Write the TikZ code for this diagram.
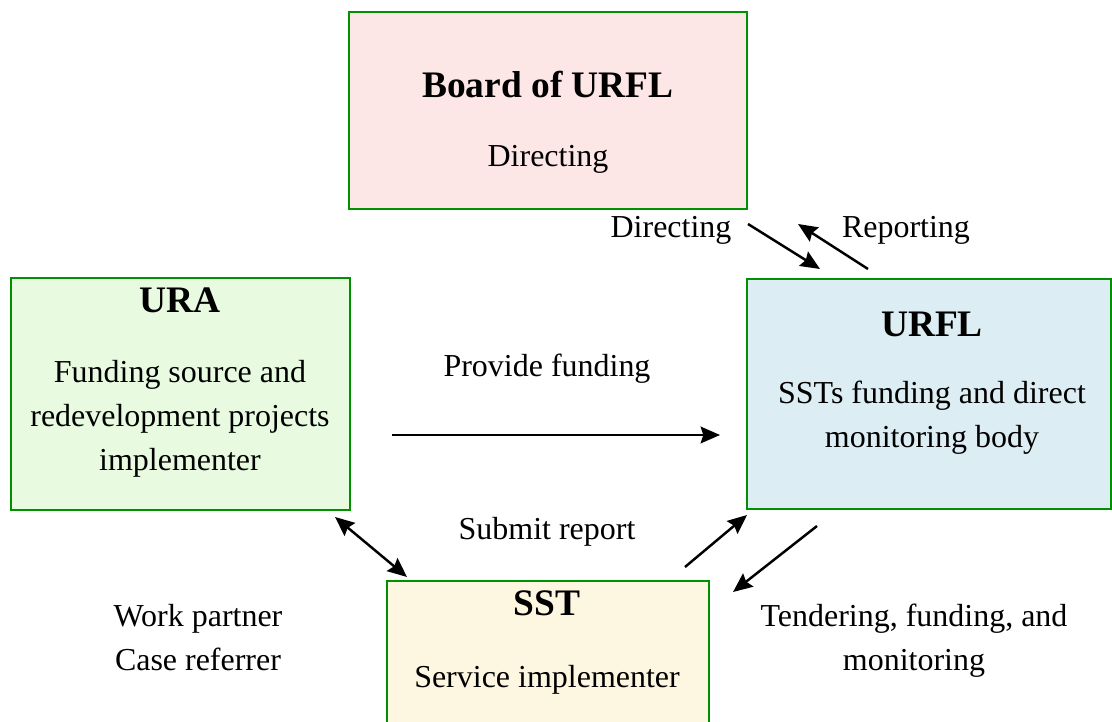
\documentclass[tikz,border=0pt]{standalone}
\usepackage{fontspec}
\setmainfont{Liberation Serif}
\usetikzlibrary{arrows.meta,positioning}
\definecolor{boxgreen}{RGB}{0,144,0}
\definecolor{pinkfill}{RGB}{253,230,230}
\definecolor{greenfill}{RGB}{232,251,224}
\definecolor{bluefill}{RGB}{220,237,243}
\definecolor{creamfill}{RGB}{253,246,224}
\tikzset{
  box/.style={draw=boxgreen,line width=1.1pt,rectangle,inner sep=0pt},
  ttl/.style={font=\fontsize{21.3}{25}\selectfont\bfseries,inner sep=0pt,anchor=base},
  txt/.style={font=\fontsize{18.2}{25}\selectfont,inner sep=0pt,align=center},
  arr/.style={line width=1.4pt}
}

\begin{document}
\begin{tikzpicture}[x=0.02cm,y=-0.02cm,>={Stealth[length=11pt,width=9.5pt,inset=1.5pt]}]
  \useasboundingbox (0,0) rectangle (1112,722);
  \clip (0,0) rectangle (1112,722);

  % boxes
  \node[box,fill=pinkfill,minimum width=7.96cm,minimum height=3.94cm] (board) at (548,110.5) {};
  \node[box,fill=greenfill,minimum width=6.78cm,minimum height=4.64cm] (ura) at (180.5,394) {};
  \node[box,fill=bluefill,minimum width=7.28cm,minimum height=4.6cm] (urfl) at (929,394) {};
  \node[box,fill=creamfill,minimum width=6.44cm,minimum height=3.18cm] (sst) at (548,660.5) {};

  % texts in the boxes
  \node[ttl] (boardT) at (548,98) {Board of URFL};
  \node[txt,anchor=base] (boardB) at (548,167) {Directing};
  \node[ttl] (uraT) at (180,313) {URA};
  \node[txt] (uraB) at (180,419) {Funding source and\\redevelopment projects\\implementer};
  \node[ttl] (urflT) at (932,337) {URFL};
  \node[txt] (urflB) at (932,418) {SSTs funding and direct\\monitoring body};
  \node[ttl] (sstT) at (547,615) {SST};
  \node[txt,anchor=base] (sstB) at (547,687) {Service implementer};

  % labels
  \node[txt,anchor=base] (dirL) at (671,238) {Directing};
  \node[txt,anchor=base] (repL) at (906,238) {Reporting};
  \node[txt,anchor=base] (fundL) at (547,377) {Provide funding};
  \node[txt,anchor=base] (subL) at (547,540) {Submit report};
  \node[txt] (partL) at (198,637.5) {Work partner\\Case referrer};
  \node[txt] (tenL) at (914,641) {Tendering, funding, and\\monitoring};

  % arrow ends
  \coordinate (dirA) at (748,224);
  \coordinate (dirB) at (820,269);
  \coordinate (repA) at (868,269);
  \coordinate (repB) at (798,224);
  \coordinate (fundA) at (392,435);
  \coordinate (fundB) at (720,435);
  \coordinate (partA) at (335,517);
  \coordinate (partB) at (407,577);
  \coordinate (subA) at (685,567);
  \coordinate (subB) at (747,515);
  \coordinate (tenA) at (817,526);
  \coordinate (tenB) at (733,592);

  \draw[arr,->] (dirA)--(dirB);
  \draw[arr,->] (repA)--(repB);
  \draw[arr,->] (fundA)--(fundB);
  \draw[arr,<->] (partA)--(partB);
  \draw[arr,->] (subA)--(subB);
  \draw[arr,->] (tenA)--(tenB);
\end{tikzpicture}
\end{document}
